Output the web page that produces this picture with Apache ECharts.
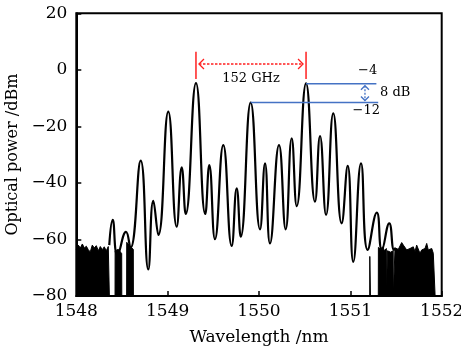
<!DOCTYPE html>
<html>
<head>
<meta charset="utf-8">
<script src="https://cdn.jsdelivr.net/npm/echarts@6/dist/echarts.min.js"></script>
<style>
html,body{margin:0;padding:0;background:#fff;}
#c{width:461px;height:352px;}
</style>
</head>
<body>
<div id="c"></div>
<script>
// ---- data ----
const waveX = [1548.361,1548.398,1548.451,1548.544,1548.593,1548.705,1548.788,1548.843,1548.898,1549.007,
  1549.099,1549.154,1549.198,1549.310,1549.412,1549.456,1549.518,1549.609,1549.701,1549.756,
  1549.800,1549.909,1550.011,1550.066,1550.120,1550.219,1550.292,1550.358,1550.413,1550.515,
  1550.613,1550.668,1550.734,1550.813,1550.905,1550.971,1551.032,1551.117,1551.190,1551.290,
  1551.345,1551.426,1551.478,1551.495];
const powerY = [-62.0,-53.1,-65.5,-57.3,-63.0,-32.1,-70.6,-46.3,-58.4,-14.8,
  -55.5,-34.5,-51.0,-4.7,-51.0,-33.7,-59.9,-26.6,-62.3,-41.9,
  -59.0,-11.6,-56.4,-33.1,-61.4,-26.6,-56.4,-24.2,-48.2,-4.8,
  -46.6,-23.4,-51.3,-15.4,-54.3,-34.0,-67.9,-33.1,-63.7,-50.5,
  -63.7,-54.3,-63.7,-63.0];

// noise floor (upper envelope of the dense noise, filled down to the axis)
const noiseLeftX = [1548.000,1548.022,1548.044,1548.066,1548.088,1548.110,1548.131,1548.153,1548.175,1548.197,
  1548.219,1548.241,1548.263,1548.285,1548.306,1548.328,1548.350,1548.361,1548.362,1548.424,
  1548.425,1548.460,1548.497,1548.498,1548.551,1548.552,1548.590,1548.624,1548.625];
const noiseLeftY = [-63.5,-62.0,-63.0,-61.6,-63.0,-62.4,-63.6,-64.4,-62.0,-63.0,
  -62.2,-64.0,-62.5,-63.6,-62.6,-64.0,-62.5,-63.0,-80,-80,
  -64.0,-63.5,-65.0,-80,-80,-61.0,-62.5,-63.5,-80];
const noiseRightX = [1551.212,1551.213,1551.219,1551.220,1551.306,1551.307,1551.330,1551.352,1551.375,1551.394,1551.395,
  1551.405,1551.406,1551.440,1551.469,1551.470,1551.488,1551.489,1551.507,1551.525,1551.543,
  1551.562,1551.580,1551.598,1551.617,1551.634,1551.653,1551.672,1551.689,1551.708,1551.726,
  1551.744,1551.762,1551.781,1551.799,1551.817,1551.836,1551.853,1551.872,1551.891,1551.908,
  1551.927,1551.928];
const noiseRightY = [-80,-66,-66,-80,-80,-62.8,-63.5,-62.6,-64.0,-63.2,-80,
  -80,-64.0,-64.5,-64.0,-80,-80,-63.0,-62.6,-63.5,-63.2,
  -61.1,-62.0,-62.6,-63.7,-63.2,-63.2,-63.5,-62.6,-64.3,-62.0,
  -61.6,-64.9,-63.7,-64.3,-63.2,-61.4,-63.7,-64.3,-63.2,-64.9,
  -64.3,-80];

const xTicks = [1548,1549,1550,1551,1552];
const yTicks = [-80,-60,-40,-20,0,20];

// annotation values
const peakLeftX = 1549.310, peakRightX = 1550.515;
const spacingLabel = '152 GHz';
const highLevel = -4.9, lowLevel = -11.55, lowPeakX = 1549.909;
const highLabel = '\u22124', lowLabel = '\u221212', diffLabel = '8 dB';

const zip = (a,b) => a.map((v,i)=>[v,b[i]]);
const fmt = v => v < 0 ? '\u2212' + Math.abs(v) : String(v);
const FONT = 'DejaVu Serif';

const chart = echarts.init(document.getElementById('c'), null, {renderer:'canvas'});
chart.setOption({
  animation:false,
  backgroundColor:'#fff',
  grid:{left:76.3, right:19.3, top:13.3, bottom:56, show:true, borderColor:'#000', borderWidth:2,
    backgroundColor:'transparent', containLabel:false, outerBoundsMode:'none'},
  xAxis:{type:'value', min:xTicks[0], max:xTicks[xTicks.length-1], interval:1,
    name:'Wavelength /nm', nameLocation:'middle', nameGap:33,
    nameTextStyle:{fontFamily:FONT, fontSize:17, color:'#000'},
    axisLine:{onZero:false, lineStyle:{color:'#000', width:2}},
    axisTick:{inside:true, length:5, lineStyle:{color:'#000', width:1.5}},
    axisLabel:{fontFamily:FONT, fontSize:17, color:'#000', margin:7, formatter:v=>String(v)},
    splitLine:{show:false}},
  yAxis:{type:'value', min:yTicks[0], max:yTicks[yTicks.length-1], interval:20,
    name:'Optical power /dBm', nameLocation:'middle', nameGap:55,
    nameTextStyle:{fontFamily:FONT, fontSize:16, color:'#000'},
    axisLine:{onZero:false, lineStyle:{color:'#000', width:2}},
    axisTick:{inside:true, length:5, lineStyle:{color:'#000', width:1.5}},
    axisLabel:{fontFamily:FONT, fontSize:17, color:'#000', margin:9, formatter:fmt},
    splitLine:{show:false}},
  series:[
    {type:'line', data:zip(noiseLeftX,noiseLeftY), showSymbol:false, lineStyle:{color:'#000', width:1},
     areaStyle:{color:'#000', opacity:1, origin:'start'}, z:2},
    {type:'line', data:zip(noiseRightX,noiseRightY), showSymbol:false, lineStyle:{color:'#000', width:1},
     areaStyle:{color:'#000', opacity:1, origin:'start'}, z:2},
    {type:'line', data:zip(waveX,powerY), showSymbol:false, smooth:0.5,
     lineStyle:{color:'#000', width:2.2}, z:3}
  ]
});

const P = (x,y) => chart.convertToPixel({gridIndex:0},[x,y]);
const RED = '#ff1f1f', BLUE = '#4472c4';
const g = [];
function line(a,b,color,width,dash){
  g.push({type:'line', shape:{x1:a[0],y1:a[1],x2:b[0],y2:b[1]}, style:{stroke:color, lineWidth:width, lineDash:dash||null}, z:10});
}
function poly(pts,color,width){
  g.push({type:'polyline', shape:{points:pts}, style:{stroke:color, lineWidth:width, fill:null}, z:10});
}
function text(str,p,align,color){
  g.push({type:'text', x:p[0], y:p[1], style:{text:str, fontFamily:FONT, fontSize:13, fill:color||'#000', align:align||'center', verticalAlign:'middle'}, z:10});
}
// red spacing markers
const rTop = 6.4, rBot = -3.2, rArrow = 2.07;
[peakLeftX, peakRightX].forEach(x=>line(P(x,rTop),P(x,rBot),RED,1.5));
const aL = P(peakLeftX,rArrow), aR = P(peakRightX,rArrow);
line([aL[0]+3,aL[1]],[aR[0]-3,aR[1]],RED,1.3,[2.5,1.5]);
poly([[aL[0]+8,aL[1]-5],[aL[0]+3,aL[1]],[aL[0]+8,aL[1]+5]],RED,1.3);
poly([[aR[0]-8,aR[1]-5],[aR[0]-3,aR[1]],[aR[0]-8,aR[1]+5]],RED,1.3);
text(spacingLabel,P((peakLeftX+peakRightX)/2,-3.2));
// blue level lines
line(P(peakRightX,highLevel),P(1551.285,highLevel),BLUE,1.5);
line(P(lowPeakX,lowLevel),P(1551.305,lowLevel),BLUE,1.5);
const vT = P(1551.160,highLevel), vB = P(1551.160,lowLevel);
line([vT[0],vT[1]+2],[vB[0],vB[1]-2],BLUE,1.3,[2,1.5]);
poly([[vT[0]-4,vT[1]+6],[vT[0],vT[1]+2],[vT[0]+4,vT[1]+6]],BLUE,1.3);
poly([[vB[0]-4,vB[1]-6],[vB[0],vB[1]-2],[vB[0]+4,vB[1]-6]],BLUE,1.3);
text(diffLabel,P(1551.325,(highLevel+lowLevel)/2),'left');
text(highLabel,P(1551.19,-0.3));
text(lowLabel,P(1551.175,-14.56));
chart.setOption({graphic:g});
</script>
</body>
</html>
